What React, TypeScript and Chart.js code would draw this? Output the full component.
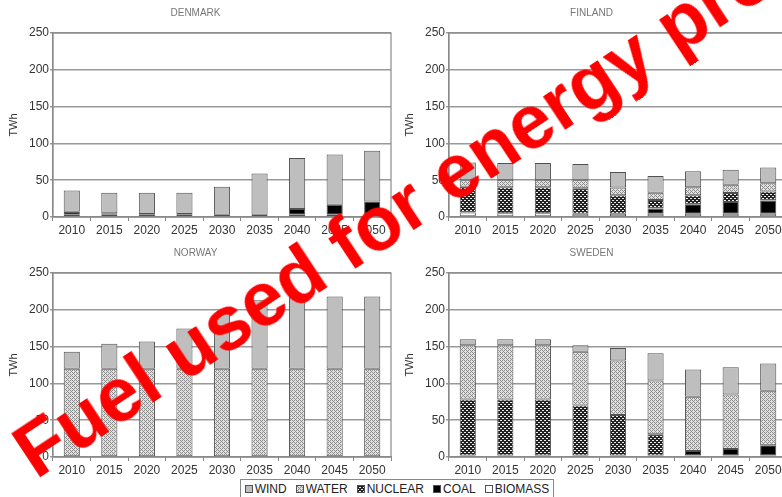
import React, { useEffect, useRef } from "react";
import { Chart, registerables } from "chart.js";

Chart.register(...registerables);

const FONT = "'Liberation Sans', Arial, Helvetica, sans-serif";

const YEARS = ["2010", "2015", "2020", "2025", "2030", "2035", "2040", "2045", "2050"];
const SOURCES = ["WIND", "WATER", "NUCLEAR", "COAL", "BIOMASS"];

// Denmark, TWh
const DK_WIND = [29, 28, 29, 29, 38, 56, 69, 68.5, 69];
const DK_WATER = [0, 0, 0, 0, 0, 0, 0, 0, 0];
const DK_NUCLEAR = [0, 0, 0, 0, 0, 0, 0, 0, 0];
const DK_COAL = [4, 2, 1, 1, 0, 0, 8, 13.5, 18];
const DK_BIOMASS = [3, 3, 3, 3, 3, 3, 3, 3, 3];

// Finland, TWh
const FI_WIND = [24, 23, 23, 22, 21, 22.7, 21.7, 20.4, 21.3];
const FI_WATER = [9, 10, 10, 11, 10.5, 10, 11, 11.3, 11.3];
const FI_NUCLEAR = [35, 35.5, 35.5, 34.5, 25, 11.5, 12.2, 12, 12];
const FI_COAL = [0, 0, 0, 0, 0, 7, 12.7, 16, 18];
const FI_BIOMASS = [6, 5, 5, 4.5, 4.5, 4.5, 4.5, 4.5, 4.5];

// Norway, TWh
const NO_WIND = [23, 34, 37, 54.5, 75, 93, 98, 98, 98];
const NO_WATER = [119, 119, 119, 119, 119, 119, 119, 119, 119];
const NO_NUCLEAR = [0, 0, 0, 0, 0, 0, 0, 0, 0];
const NO_COAL = [0, 0, 0, 0, 0, 0, 0, 0, 0];
const NO_BIOMASS = [1, 1, 1, 1, 1, 1, 1, 1, 1];

// Sweden, TWh
const SE_WIND = [8, 8, 8, 9, 17, 37, 37, 37, 37];
const SE_WATER = [74, 74, 74, 73, 74, 73, 74, 74, 74];
const SE_NUCLEAR = [76, 76, 76, 68, 55, 29, 0, 0, 0];
const SE_COAL = [0, 0, 0, 0, 0, 0, 6, 9, 14];
const SE_BIOMASS = [2, 2, 2, 2, 2, 2, 2, 2, 2];

const Y_TICKS = [0, 50, 100, 150, 200, 250];

type Fill = string | CanvasPattern;

function makePattern(kind: string): CanvasPattern | string {
  const c = document.createElement("canvas");
  c.width = 4;
  c.height = 4;
  const g = c.getContext("2d");
  if (!g) return "#999";
  if (kind === "WATER") {
    g.fillStyle = "#e0e0e0";
    g.fillRect(0, 0, 4, 4);
    g.fillStyle = "#8e8e8e";
    for (let i = 0; i < 4; i++) g.fillRect(i, i, 1, 1);
    g.fillRect(0, 2, 1, 1);
    g.fillRect(2, 0, 1, 1);
  } else {
    g.fillStyle = "#222";
    g.fillRect(0, 0, 4, 4);
    g.fillStyle = "#eeeeee";
    g.fillRect(0, 0, 2, 1);
    g.fillRect(2, 2, 2, 1);
  }
  return g.createPattern(c, "repeat") || "#999";
}

function sourceFill(name: string): Fill {
  if (name === "WIND") return "#bebebe";
  if (name === "WATER") return makePattern("WATER");
  if (name === "NUCLEAR") return makePattern("NUCLEAR");
  if (name === "COAL") return "#000000";
  return "#ffffff";
}

// Outline round the plot area
const framePlugin = {
  id: "plotFrame",
  afterDraw(chart: any) {
    const { ctx, chartArea } = chart;
    ctx.save();
    ctx.strokeStyle = "#8a8a8a";
    ctx.lineWidth = 1.2;
    ctx.strokeRect(chartArea.left, chartArea.top, chartArea.right - chartArea.left, chartArea.bottom - chartArea.top);
    ctx.restore();
  },
};

type Country = {
  title: string;
  wind: number[];
  water: number[];
  nuclear: number[];
  coal: number[];
  biomass: number[];
};

const COUNTRIES: Country[] = [
  { title: "DENMARK", wind: DK_WIND, water: DK_WATER, nuclear: DK_NUCLEAR, coal: DK_COAL, biomass: DK_BIOMASS },
  { title: "FINLAND", wind: FI_WIND, water: FI_WATER, nuclear: FI_NUCLEAR, coal: FI_COAL, biomass: FI_BIOMASS },
  { title: "NORWAY", wind: NO_WIND, water: NO_WATER, nuclear: NO_NUCLEAR, coal: NO_COAL, biomass: NO_BIOMASS },
  { title: "SWEDEN", wind: SE_WIND, water: SE_WATER, nuclear: SE_NUCLEAR, coal: SE_COAL, biomass: SE_BIOMASS },
];

function buildChart(canvas: HTMLCanvasElement, c: Country) {
  // stacked bottom-up: biomass, coal, nuclear, water, wind
  const series: [string, number[]][] = [
    ["BIOMASS", c.biomass],
    ["COAL", c.coal],
    ["NUCLEAR", c.nuclear],
    ["WATER", c.water],
    ["WIND", c.wind],
  ];
  return new Chart(canvas, {
    type: "bar",
    data: {
      labels: YEARS,
      datasets: series.map(([name, values]) => ({
        label: name,
        data: values,
        backgroundColor: sourceFill(name) as any,
        borderColor: "#505050",
        borderWidth: 1,
        borderSkipped: false,
        barPercentage: 0.43,
        categoryPercentage: 1,
      })),
    },
    options: {
      responsive: false,
      animation: false,
      layout: { padding: { top: 0, right: 5, bottom: 1, left: 0 } },
      plugins: {
        legend: { display: false },
        tooltip: { enabled: false },
        title: {
          display: true,
          text: c.title,
          color: "#777",
          font: { family: FONT, size: 10, weight: "normal" },
          padding: { top: 7, bottom: 14 },
        },
      },
      scales: {
        x: {
          stacked: true,
          afterFit: (axis: any) => {
            axis.height = 20;
          },
          grid: { offset: true, drawOnChartArea: false, drawTicks: true, tickLength: 4, color: "#888" },
          border: { color: "#888", width: 1.2 },
          ticks: { color: "#333", font: { family: FONT, size: 12 }, padding: 2, maxRotation: 0, autoSkip: false },
        },
        y: {
          stacked: true,
          min: 0,
          max: 250,
          afterBuildTicks: (axis: any) => {
            axis.ticks = Y_TICKS.map((v) => ({ value: v }));
          },
          afterFit: (axis: any) => {
            axis.width = 53;
          },
          grid: { color: "#999", lineWidth: 1.5, tickLength: 3 },
          border: { color: "#888", width: 1.2 },
          ticks: { color: "#333", font: { family: FONT, size: 12 }, padding: 1 },
          title: {
            display: true,
            text: "TWh",
            color: "#333",
            font: { family: FONT, size: 11 },
            padding: { top: 7, bottom: 0 },
          },
        },
      },
    },
    plugins: [framePlugin],
  });
}

function Swatch({ name }: { name: string }) {
  const ref = useRef<HTMLCanvasElement | null>(null);
  useEffect(() => {
    const cv = ref.current;
    if (!cv) return;
    const g = cv.getContext("2d");
    if (!g) return;
    g.fillStyle = sourceFill(name) as any;
    g.fillRect(0, 0, 8, 8);
    g.strokeStyle = "#505050";
    g.lineWidth = 1;
    g.strokeRect(0.5, 0.5, 7, 7);
  }, [name]);
  return <canvas ref={ref} width={8} height={8} style={{ display: "block", marginRight: 2 }} />;
}

const CANVAS_W = 396;
const CANVAS_H = 238;
const PANEL_POS = [
  { left: 0, top: 0 },
  { left: 396, top: 0 },
  { left: 0, top: 240 },
  { left: 396, top: 240 },
];

export default function App() {
  const refs = [
    useRef<HTMLCanvasElement | null>(null),
    useRef<HTMLCanvasElement | null>(null),
    useRef<HTMLCanvasElement | null>(null),
    useRef<HTMLCanvasElement | null>(null),
  ];

  useEffect(() => {
    const charts = COUNTRIES.map((c, i) => buildChart(refs[i].current as HTMLCanvasElement, c));
    return () => charts.forEach((ch) => ch.destroy());
  }, []);

  return (
    <div
      style={{
        position: "absolute",
        left: 0,
        top: 0,
        width: 782,
        height: 497,
        overflow: "hidden",
        background: "#fff",
        fontFamily: FONT,
      }}
    >
      {COUNTRIES.map((c, i) => (
        <canvas
          key={c.title}
          ref={refs[i]}
          width={CANVAS_W}
          height={CANVAS_H}
          style={{ position: "absolute", left: PANEL_POS[i].left, top: PANEL_POS[i].top, width: CANVAS_W, height: CANVAS_H }}
        />
      ))}

      <div
        style={{
          position: "absolute",
          left: 240,
          top: 479,
          width: 314,
          height: 20,
          border: "1px solid #888",
          boxSizing: "border-box",
          display: "flex",
          alignItems: "center",
          justifyContent: "center",
          gap: 9,
          fontSize: 12,
          color: "#222",
          background: "#fff",
        }}
      >
        {SOURCES.map((s) => (
          <div key={s} style={{ display: "flex", alignItems: "center" }}>
            <Swatch name={s} />
            <span>{s}</span>
          </div>
        ))}
      </div>

      <div
        style={{
          position: "absolute",
          left: 36,
          top: 480 - 64,
          transformOrigin: "0px 64px",
          transform: "rotate(-33.5deg)",
          whiteSpace: "nowrap",
          fontFamily: FONT,
          fontWeight: "bold",
          fontSize: 76,
          lineHeight: "76px",
          color: "#ff0000",
        }}
      >
        Fuel used for energy production
      </div>
    </div>
  );
}
